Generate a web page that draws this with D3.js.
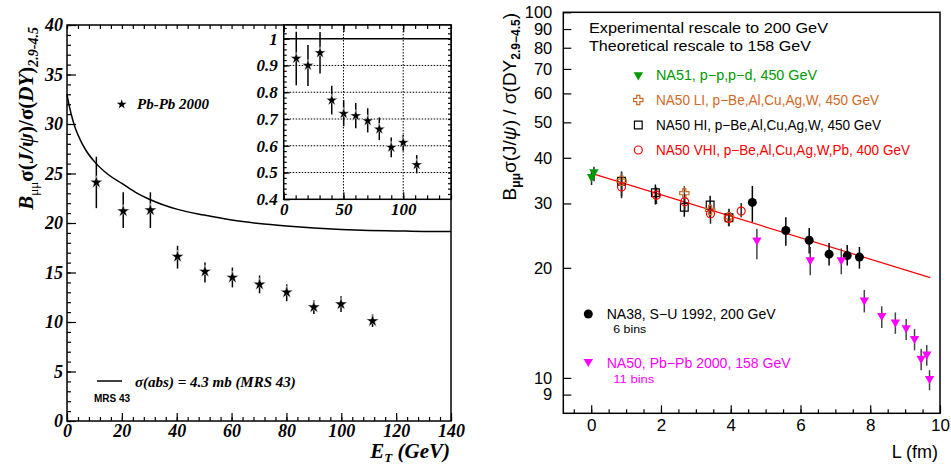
<!DOCTYPE html>
<html><head><meta charset="utf-8">
<script src="https://cdn.jsdelivr.net/npm/d3@7"></script>
<style>body{margin:0;background:#fff}svg{display:block}</style>
</head><body>
<svg id="c" width="951" height="465"></svg>
<script>
// ---------- Left panel data ----------
const etBins   = [10.7, 20.5, 30.4, 40.3, 50.3, 60.3, 70.2, 80.1, 90.0, 99.9, 111.4];
const ratio    = [24.1, 21.2, 21.3, 16.6, 15.1, 14.5, 13.8, 13.0, 11.5, 11.8, 10.1];
const ratioHi  = [26.7, 23.1, 23.1, 17.7, 16.0, 15.5, 14.7, 13.8, 12.2, 12.6, 10.8];
const ratioLo  = [21.5, 19.5, 19.5, 15.4, 14.0, 13.5, 12.9, 12.1, 10.8, 11.0, 9.5];
const curveEt  = [0, 1, 2, 3, 5, 7, 10, 15, 20, 25, 30, 40, 50, 60, 70, 80, 90, 100, 110, 120, 130, 140];
const curveVal = [33.0, 31.6, 30.5, 29.6, 28.3, 27.3, 26.2, 24.9, 24.0, 23.1, 22.4, 21.4, 20.8, 20.3, 19.95, 19.7, 19.5, 19.35, 19.25, 19.2, 19.15, 19.15];
const insetEt  = [10.5, 20.3, 30.4, 40.2, 50.2, 60.3, 70.3, 80.0, 90.0, 100.0, 111.3];
const insetVal = [0.926, 0.900, 0.947, 0.770, 0.720, 0.712, 0.693, 0.662, 0.594, 0.612, 0.529];
const insetHi  = [1.026, 0.976, 1.025, 0.824, 0.770, 0.760, 0.740, 0.706, 0.631, 0.640, 0.565];
const insetLo  = [0.826, 0.823, 0.870, 0.717, 0.673, 0.665, 0.650, 0.621, 0.557, 0.581, 0.497];
const leftYTicks = [0, 5, 10, 15, 20, 25, 30, 35, 40];
const leftXTicks = [0, 20, 40, 60, 80, 100, 120, 140];
const insetYTicks = [0.4, 0.5, 0.6, 0.7, 0.8, 0.9, 1];
const insetXTicks = [0, 50, 100];

// ---------- Right panel data ----------
const na51L = [0.01, 0.08], na51V = [35.5, 36.6], na51Lo = [33.7, 34.5], na51Hi = [37.0, 37.8];
const liL = [0.87, 2.67, 3.41, 3.95], liV = [34.6, 32.0, 28.8, 27.5], liLo = [32.5, 30.5, 27.5, 26.3], liHi = [36.5, 33.5, 30.0, 28.8];
const hiL = [0.87, 1.84, 2.67, 3.41, 3.95], hiV = [34.5, 32.1, 29.3, 29.7, 27.4], hiLo = [31.4, 29.8, 27.6, 27.5, 26.0], hiHi = [36.7, 33.8, 30.9, 31.5, 29.0];
const vhiL = [0.87, 1.87, 2.68, 3.42, 3.94, 4.30], vhiV = [33.3, 31.6, 30.3, 28.1, 27.3, 28.6], vhiLo = [31.0, 29.9, 28.7, 26.4, 26.0, 27.5], vhiHi = [35.3, 33.2, 31.8, 29.8, 28.6, 30.1];
const na38L = [4.62, 5.58, 6.25, 6.82, 7.34, 7.69], na38V = [30.2, 25.3, 23.8, 21.8, 21.6, 21.4], na38Lo = [26.7, 23.0, 21.9, 20.3, 20.3, 19.9], na38Hi = [33.5, 27.5, 25.7, 23.4, 23.1, 22.8];
const pbL = [4.75, 6.28, 7.17, 7.83, 8.33, 8.72, 9.03, 9.27, 9.46, 9.62, 9.70];
const pbV = [23.8, 21.0, 21.0, 16.3, 14.8, 14.2, 13.7, 12.8, 11.3, 11.6, 9.95];
const pbLo = [21.1, 19.1, 19.2, 15.1, 13.7, 13.2, 12.7, 11.9, 10.5, 10.8, 9.25];
const pbHi = [25.6, 22.8, 22.6, 17.4, 15.7, 15.1, 14.5, 13.6, 12.0, 12.3, 10.5];
const fitL = [0.08, 9.72], fitV = [36.1, 18.8];
const rightYTicks = [9, 10, 20, 30, 40, 50, 60, 70, 80, 90, 100];
const rightXTicks = [0, 2, 4, 6, 8, 10];

const svg = d3.select("#c");
const SERIF = "'Liberation Serif','Times New Roman',serif";
const SANS = "'Liberation Sans',Arial,Helvetica,sans-serif";

function zip(a, b, c, d) { return a.map((v, i) => ({x: v, y: b[i], lo: c[i], hi: d[i]})); }

// ================= LEFT PANEL =================
const xL = d3.scaleLinear().domain([0, 140]).range([67, 451]);
const yL = d3.scaleLinear().domain([0, 40]).range([421, 25]);
const gL = svg.append("g");

function styleAxis(g) { g.select(".domain").remove(); g.selectAll("line").attr("stroke", "#000").attr("stroke-width", 1.2); }

gL.append("g").attr("transform", "translate(67,0)")
  .call(d3.axisLeft(yL).tickValues(d3.range(0, 41, 1)).tickSize(-4).tickFormat("")).call(styleAxis);
gL.append("g").attr("transform", "translate(67,0)")
  .call(d3.axisLeft(yL).tickValues(leftYTicks).tickSize(-9).tickPadding(4).tickFormat(d3.format("d")))
  .call(styleAxis)
  .call(g => g.selectAll("text").attr("font-family", SERIF).attr("font-weight", "bold").attr("font-style", "italic").attr("font-size", 18).attr("fill", "#000"));
gL.append("g").attr("transform", "translate(0,421)")
  .call(d3.axisBottom(xL).tickValues(d3.range(0, 141, 4)).tickSize(-4).tickFormat("")).call(styleAxis);
gL.append("g").attr("transform", "translate(0,421)")
  .call(d3.axisBottom(xL).tickValues(leftXTicks).tickSize(-8).tickFormat(d3.format("d")))
  .call(styleAxis)
  .call(g => g.selectAll("text").attr("dy", null).attr("y", 16).attr("font-family", SERIF).attr("font-weight", "bold").attr("font-style", "italic").attr("font-size", 18).attr("fill", "#000"));
gL.append("g").attr("transform", "translate(0,25)")
  .call(d3.axisTop(xL).tickValues(d3.range(0, 81, 4)).tickSize(-4).tickFormat("")).call(styleAxis);

// curve
gL.append("path")
  .datum(curveEt.map((e, i) => [e, curveVal[i]]))
  .attr("d", d3.line().x(d => xL(d[0])).y(d => yL(d[1])).curve(d3.curveMonotoneX))
  .attr("fill", "none").attr("stroke", "#000").attr("stroke-width", 1.5);

// data
const mainPts = zip(etBins, ratio, ratioLo, ratioHi);
gL.selectAll(".eb").data(mainPts).join("line")
  .attr("x1", d => xL(d.x)).attr("x2", d => xL(d.x)).attr("y1", d => yL(d.lo)).attr("y2", d => yL(d.hi))
  .attr("stroke", "#000").attr("stroke-width", 1.5);
gL.selectAll(".st").data(mainPts).join("path")
  .attr("transform", d => `translate(${xL(d.x)},${yL(d.y)})`).attr("d", d3.symbol(d3.symbolStar, 50))
  .attr("fill", "#000").attr("stroke", "#fff").attr("stroke-width", 0.5);

gL.append("rect").attr("x", 67).attr("y", 25).attr("width", 384).attr("height", 396)
  .attr("fill", "none").attr("stroke", "#000").attr("stroke-width", 1.5);

// legend
gL.append("path").attr("transform", "translate(121.7,104.3)").attr("d", d3.symbol(d3.symbolStar, 30)).attr("fill", "#000");
gL.append("text").attr("x", 137).attr("y", 109).attr("font-family", SERIF).attr("font-weight", "bold").attr("font-style", "italic").attr("font-size", 15).text("Pb-Pb 2000");
gL.append("line").attr("x1", 97).attr("x2", 122).attr("y1", 381).attr("y2", 381).attr("stroke", "#000").attr("stroke-width", 1.5);
gL.append("text").attr("x", 135).attr("y", 386.5).attr("font-family", SERIF).attr("font-weight", "bold").attr("font-style", "italic").attr("font-size", 15).text("σ(abs) = 4.3 mb (MRS 43)");
gL.append("text").attr("x", 94).attr("y", 402).attr("font-family", SANS).attr("font-weight", "bold").attr("font-size", 10).text("MRS 43");

// axis titles
const ytl = gL.append("text").attr("transform", "translate(33,27) rotate(-90)").attr("text-anchor", "end")
  .attr("font-family", SERIF).attr("font-weight", "bold").attr("font-size", 21).attr("fill", "#000");
ytl.append("tspan").attr("font-style", "italic").text("B");
ytl.append("tspan").attr("font-size", 13).attr("font-weight", "normal").attr("dy", 5).text("μμ");
ytl.append("tspan").attr("dy", -5).text("σ(");
ytl.append("tspan").attr("font-style", "italic").text("J/ψ");
ytl.append("tspan").text(")/σ(");
ytl.append("tspan").attr("font-style", "italic").text("DY");
ytl.append("tspan").text(")");
ytl.append("tspan").attr("font-size", 14).attr("font-style", "italic").attr("dy", 5).text("2.9-4.5");

const xtl = gL.append("text").attr("x", 450).attr("y", 458).attr("text-anchor", "end")
  .attr("font-family", SERIF).attr("font-weight", "bold").attr("font-style", "italic").attr("font-size", 21);
xtl.append("tspan").text("E");
xtl.append("tspan").attr("font-size", 13).attr("dy", 4).text("T");
xtl.append("tspan").attr("dy", -4).text(" (GeV)");

// ================= INSET =================
const xI = d3.scaleLinear().domain([0, 140]).range([283.7, 451]);
const yI = d3.scaleLinear().domain([0.4, 1.05]).range([199.3, 25.3]);
const gI = svg.append("g");
gI.append("rect").attr("x", 283.7).attr("y", 25).attr("width", 451 - 283.7).attr("height", 199.3 - 25).attr("fill", "#fff");
gI.selectAll(".gx").data([50, 100]).join("line")
  .attr("x1", d => xI(d)).attr("x2", d => xI(d)).attr("y1", 25).attr("y2", 199.3)
  .attr("stroke", "#000").attr("stroke-width", 1).attr("stroke-dasharray", "1.5,1.5");
gI.selectAll(".gy").data([0.5, 0.6, 0.7, 0.8, 0.9]).join("line")
  .attr("x1", 283.7).attr("x2", 451).attr("y1", d => yI(d)).attr("y2", d => yI(d))
  .attr("stroke", "#000").attr("stroke-width", 1).attr("stroke-dasharray", "1.5,1.5");
gI.append("line").attr("x1", 283.7).attr("x2", 451).attr("y1", yI(1)).attr("y2", yI(1)).attr("stroke", "#000").attr("stroke-width", 1.5);
gI.append("g").attr("transform", "translate(283.7,0)")
  .call(d3.axisLeft(yI).tickValues(d3.range(0.42, 1.05, 0.02)).tickSize(-3).tickFormat("")).call(styleAxis);
gI.append("g").attr("transform", "translate(451,0)")
  .call(d3.axisRight(yI).tickValues(d3.range(0.42, 1.05, 0.02)).tickSize(-3).tickFormat("")).call(styleAxis);
gI.append("g").attr("transform", "translate(283.7,0)")
  .call(d3.axisLeft(yI).tickValues(insetYTicks).tickSize(-6).tickPadding(6).tickFormat(d => d === 1 ? "1" : d3.format(".1f")(d)))
  .call(styleAxis)
  .call(g => g.selectAll("text").attr("font-family", SERIF).attr("font-weight", "bold").attr("font-style", "italic").attr("font-size", 17).attr("fill", "#000"));
gI.append("g").attr("transform", "translate(0,199.3)")
  .call(d3.axisBottom(xI).tickValues(d3.range(0, 141, 10)).tickSize(-4).tickFormat("")).call(styleAxis);
gI.append("g").attr("transform", "translate(0,199.3)")
  .call(d3.axisBottom(xI).tickValues(insetXTicks).tickSize(-7).tickFormat(d3.format("d")))
  .call(styleAxis)
  .call(g => g.selectAll("text").attr("dy", null).attr("y", 16).attr("font-family", SERIF).attr("font-weight", "bold").attr("font-style", "italic").attr("font-size", 17).attr("fill", "#000"));
gI.append("g").attr("transform", "translate(0,25)")
  .call(d3.axisTop(xI).tickValues(d3.range(0, 141, 10)).tickSize(-4).tickFormat("")).call(styleAxis);
gI.append("g").attr("transform", "translate(0,25)")
  .call(d3.axisTop(xI).tickValues(insetXTicks).tickSize(-7).tickFormat("")).call(styleAxis);
const insetPts = zip(insetEt, insetVal, insetLo, insetHi);
gI.selectAll(".eb").data(insetPts).join("line")
  .attr("x1", d => xI(d.x)).attr("x2", d => xI(d.x)).attr("y1", d => yI(d.lo)).attr("y2", d => Math.max(yI(d.hi), 25))
  .attr("stroke", "#000").attr("stroke-width", 1.5);
gI.selectAll(".st").data(insetPts).join("path")
  .attr("transform", d => `translate(${xI(d.x)},${yI(d.y)})`).attr("d", d3.symbol(d3.symbolStar, 42))
  .attr("fill", "#000").attr("stroke", "#fff").attr("stroke-width", 0.5);
gI.append("rect").attr("x", 283.7).attr("y", 25).attr("width", 451 - 283.7).attr("height", 199.3 - 25)
  .attr("fill", "none").attr("stroke", "#000").attr("stroke-width", 1.5);

// ================= RIGHT PANEL =================
const xR = d3.scaleLinear().domain([-0.8, 10]).range([563.3, 940]);
const yR = d3.scaleLog().domain([8, 100]).range([413.3, 12.3]);
const gR = svg.append("g");

gR.append("g").attr("transform", "translate(563.3,0)")
  .call(d3.axisLeft(yR).tickValues(rightYTicks).tickSize(-8).tickPadding(11).tickFormat(d3.format("d")))
  .call(styleAxis)
  .call(g => g.selectAll("text").attr("font-family", SANS).attr("font-size", 16.5).attr("fill", "#000"));
gR.append("g").attr("transform", "translate(0,413.3)")
  .call(d3.axisBottom(xR).tickValues(d3.range(-0.5, 10, 0.5)).tickSize(-4).tickFormat("")).call(styleAxis);
gR.append("g").attr("transform", "translate(0,413.3)")
  .call(d3.axisBottom(xR).tickValues(rightXTicks).tickSize(-8).tickFormat(d3.format("d")))
  .call(styleAxis)
  .call(g => g.selectAll("text").attr("dy", null).attr("y", 18).attr("font-family", SANS).attr("font-size", 17).attr("fill", "#000"));

gR.append("path").datum(fitL.map((l, i) => [l, fitV[i]]))
  .attr("d", d3.line().x(d => xR(d[0])).y(d => yR(d[1])))
  .attr("stroke", "#ff0000").attr("stroke-width", 1.2).attr("fill", "none");

function errBars(pts, color) {
  gR.append("g").selectAll("line").data(pts).join("line")
    .attr("x1", d => xR(d.x)).attr("x2", d => xR(d.x)).attr("y1", d => yR(d.lo)).attr("y2", d => yR(d.hi))
    .attr("stroke", color).attr("stroke-width", 1.5);
}
const na51 = zip(na51L, na51V, na51Lo, na51Hi);
const li = zip(liL, liV, liLo, liHi);
const hi = zip(hiL, hiV, hiLo, hiHi);
const vhi = zip(vhiL, vhiV, vhiLo, vhiHi);
const na38 = zip(na38L, na38V, na38Lo, na38Hi);
const pb = zip(pbL, pbV, pbLo, pbHi);

const GREEN = "#009a00", ORANGE = "#d2691e", RED = "#ff0000", MAG = "#ff00ff";
errBars(hi, "#000"); errBars(li, "#555"); errBars(vhi, "#222"); errBars(na51, "#222");
errBars(na38, "#000"); errBars(pb, "#444");

const triDown = d3.symbol(d3.symbolTriangle, 38);
const cross = d3.symbol(d3.symbolCross, 48);
const square = d3.symbol(d3.symbolSquare, 60);

gR.append("g").selectAll("path").data(hi).join("path")
  .attr("transform", d => `translate(${xR(d.x)},${yR(d.y)})`).attr("d", square)
  .attr("fill", "none").attr("stroke", "#000").attr("stroke-width", 1.2);
gR.append("g").selectAll("path").data(li).join("path")
  .attr("transform", d => `translate(${xR(d.x)},${yR(d.y)})`).attr("d", cross)
  .attr("fill", "none").attr("stroke", ORANGE).attr("stroke-width", 1.2);
gR.append("g").selectAll("circle").data(vhi).join("circle")
  .attr("cx", d => xR(d.x)).attr("cy", d => yR(d.y)).attr("r", 4)
  .attr("fill", "none").attr("stroke", RED).attr("stroke-width", 1.2);
gR.append("g").selectAll("path").data(na51).join("path")
  .attr("transform", d => `translate(${xR(d.x)},${yR(d.y)}) rotate(180)`).attr("d", triDown)
  .attr("fill", GREEN);
gR.append("g").selectAll("circle").data(na38).join("circle")
  .attr("cx", d => xR(d.x)).attr("cy", d => yR(d.y)).attr("r", 4.5).attr("fill", "#000");
gR.append("g").selectAll("path").data(pb).join("path")
  .attr("transform", d => `translate(${xR(d.x)},${yR(d.y)}) rotate(180)`).attr("d", triDown)
  .attr("fill", MAG);

gR.append("rect").attr("x", 563.3).attr("y", 12.3).attr("width", 940 - 563.3).attr("height", 413.3 - 12.3)
  .attr("fill", "none").attr("stroke", "#000").attr("stroke-width", 1.5);

function txt(x, y, s, color, size, len) {
  const t = gR.append("text").attr("x", x).attr("y", y).attr("font-family", SANS).attr("font-size", size).attr("fill", color).text(s);
  if (len) t.attr("textLength", len).attr("lengthAdjust", "spacingAndGlyphs");
  return t;
}
txt(589, 33.3, "Experimental rescale to 200 GeV", "#000", 15, 239);
txt(589, 50.5, "Theoretical rescale to 158 GeV", "#000", 15, 222);

gR.append("path").attr("transform", "translate(638.3,75) rotate(180)").attr("d", triDown).attr("fill", GREEN);
txt(656, 80, "NA51, p−p,p−d, 450 GeV", GREEN, 14, 161);
gR.append("path").attr("transform", "translate(638.3,100)").attr("d", cross).attr("fill", "none").attr("stroke", ORANGE).attr("stroke-width", 1.2);
txt(656, 105, "NA50 LI, p−Be,Al,Cu,Ag,W, 450 GeV", ORANGE, 14, 223);
gR.append("path").attr("transform", "translate(638.3,125)").attr("d", square).attr("fill", "none").attr("stroke", "#000").attr("stroke-width", 1.2);
txt(656, 130, "NA50 HI, p−Be,Al,Cu,Ag,W, 450 GeV", "#000", 14, 225);
gR.append("circle").attr("cx", 638.3).attr("cy", 150).attr("r", 4).attr("fill", "none").attr("stroke", RED).attr("stroke-width", 1.2);
txt(656, 155, "NA50 VHI, p−Be,Al,Cu,Ag,W,Pb, 400 GeV", RED, 14, 254);

gR.append("circle").attr("cx", 588.3).attr("cy", 314).attr("r", 4.5).attr("fill", "#000");
txt(606.7, 318.5, "NA38, S−U 1992, 200 GeV", "#000", 14, 169);
txt(613.3, 332.5, "6 bins", "#000", 11.5, 33);
gR.append("path").attr("transform", "translate(588.3,361.7) rotate(180)").attr("d", triDown).attr("fill", MAG);
txt(606.7, 367.5, "NA50, Pb−Pb 2000, 158 GeV", MAG, 14, 184);
txt(613.3, 382.5, "11 bins", MAG, 11.5, 41);

txt(938, 458, "L (fm)", "#000", 18).attr("text-anchor", "end");
const ytr = gR.append("text").attr("transform", "translate(516,13) rotate(-90)").attr("text-anchor", "end")
  .attr("font-family", SANS).attr("font-size", 19).attr("fill", "#000");
ytr.append("tspan").text("B");
ytr.append("tspan").attr("font-size", 12).attr("font-weight", "bold").attr("dy", 4).text("μμ");
ytr.append("tspan").attr("dy", -4).text("σ(J/");
ytr.append("tspan").attr("font-style", "italic").text("ψ");
ytr.append("tspan").text(")  /  σ(DY");
ytr.append("tspan").attr("font-size", 12).attr("font-weight", "bold").attr("dy", 4).text("2.9−4.5");
ytr.append("tspan").attr("dy", -4).text(")");
</script>
</body></html>
